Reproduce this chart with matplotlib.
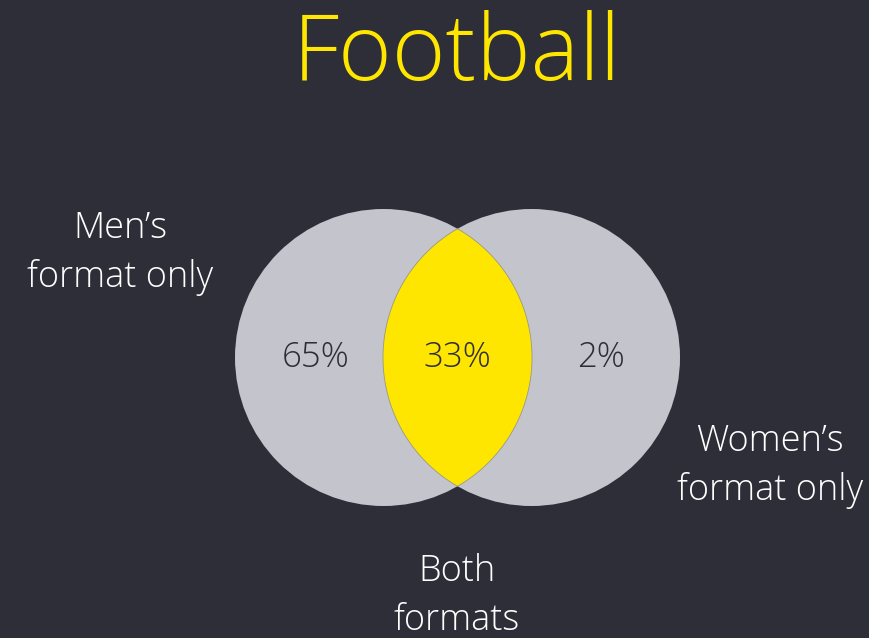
import matplotlib.pyplot as plt
import matplotlib.patches as mpatches
import numpy as np

# --- data ---
title = 'Football'
region_labels = ['Men\u2019s\nformat only', 'Both\nformats', 'Women\u2019s\nformat only']
shares = [65, 33, 2]   # percent: men only, both, women only

BG = '#2e2e38'
GREY = '#c4c4cd'
YELLOW = '#ffe600'
plt.rcParams['font.family'] = ['Open Sans', 'DejaVu Sans']

fig = plt.figure(figsize=(8.69, 6.38), dpi=100, facecolor=BG)
ax = fig.add_axes([0, 0, 1, 1])
ax.set_facecolor(BG)
ax.set_xlim(0, 869)
ax.set_ylim(638, 0)
ax.set_aspect('equal')
ax.axis('off')

# --- venn geometry (pixel layout) ---
r = 148.5
cy = 357.5
cl, cr = 383.5, 531.5
ax.add_patch(mpatches.Circle((cl, cy), r, facecolor=GREY, edgecolor='none'))
ax.add_patch(mpatches.Circle((cr, cy), r, facecolor=GREY, edgecolor='none'))

# lens (intersection)
xm = (cl + cr) / 2
h = np.sqrt(r**2 - (xm - cl)**2)
a = np.arctan2(h, xm - cl)
t = np.linspace(-a, a, 120)
arc1 = np.column_stack([cl + r * np.cos(t), cy + r * np.sin(t)])
t2 = np.linspace(np.pi - a, np.pi + a, 120)
arc2 = np.column_stack([cr + r * np.cos(t2), cy + r * np.sin(t2)])
lens = np.vstack([arc1, arc2])
ax.add_patch(mpatches.Polygon(lens, closed=True, facecolor=YELLOW,
                              edgecolor='#9a9a80', linewidth=0.6))

# --- text ---
ax.text(457, 56, title, color=YELLOW, fontsize=66, ha='center', va='center',
        fontweight='light')

pct_x = [316, 457, 601]
for x, v in zip(pct_x, shares):
    ax.text(x, 358, f'{v}%', color=BG, fontsize=25, ha='center', va='center',
            fontweight='light')

label_pos = [(120, 253), (457, 596), (770, 466)]
for (x, y), lab in zip(label_pos, region_labels):
    ax.text(x, y, lab, color='white', fontsize=26, ha='center', va='center',
            linespacing=1.45, fontweight='light')

fig.savefig('out.png', dpi=100, facecolor=BG)
